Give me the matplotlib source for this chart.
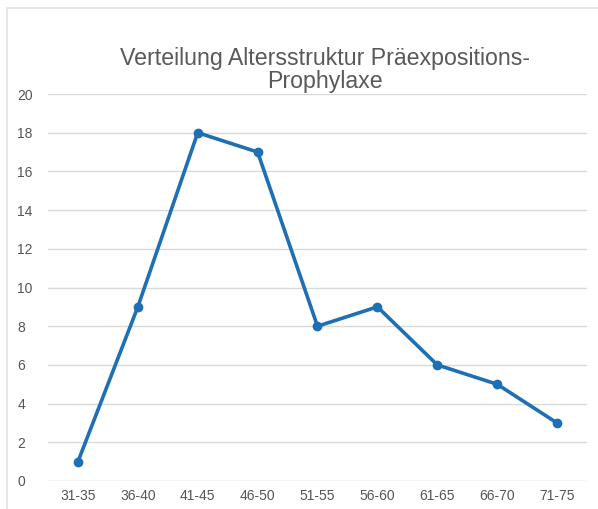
import matplotlib.pyplot as plt
from matplotlib.patches import Rectangle

# Data
age_groups = ["31-35", "36-40", "41-45", "46-50", "51-55", "56-60", "61-65", "66-70", "71-75"]
counts = [1, 9, 18, 17, 8, 9, 6, 5, 3]
y_ticks = [0, 2, 4, 6, 8, 10, 12, 14, 16, 18, 20]

plt.rcParams['font.family'] = ['Liberation Sans', 'DejaVu Sans']

fig = plt.figure(figsize=(5.98, 5.09), dpi=100)
# light outer frame like the Excel chart area
fig.patches.append(Rectangle((7 / 598, -0.1), 1.2, 1.1 - 8 / 509, transform=fig.transFigure,
                             fill=False, edgecolor='#E3E3E3', linewidth=1.2))

ax = fig.add_axes([48 / 598, 28 / 509, 539 / 598, 387 / 509])
x = range(len(age_groups))
ax.plot(x, counts, color='#1F6FB4', linewidth=2.6, marker='o', markersize=6)

ax.set_xlim(-0.5, len(age_groups) - 0.5)
ax.set_ylim(0, 20)
ax.set_yticks(y_ticks)
ax.set_xticks(list(x))
ax.set_xticklabels(age_groups)
ax.grid(axis='y', color='#D9D9D9', linewidth=1)
ax.set_axisbelow(True)
for s in ax.spines.values():
    s.set_visible(False)
ax.tick_params(length=0, colors='#555555', labelsize=10)
ax.tick_params(axis='y', pad=22)
ax.tick_params(axis='x', pad=6)
for lbl in ax.get_yticklabels():
    lbl.set_horizontalalignment('left')

fig.text(325 / 598, 1 - 70 / 509, "Verteilung Altersstruktur Präexpositions-\nProphylaxe",
         ha='center', va='center', fontsize=16.7, color='#595959', linespacing=1.05)

fig.savefig('out.png', dpi=100)
